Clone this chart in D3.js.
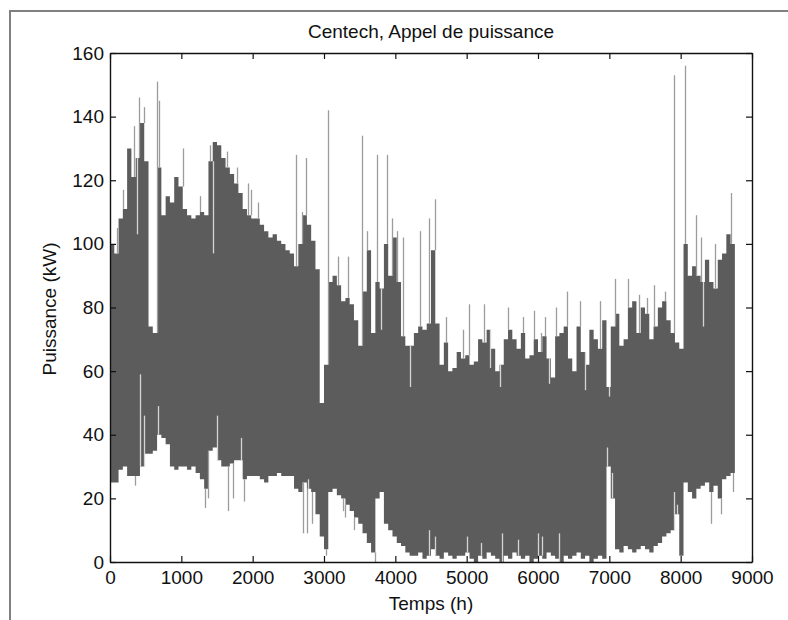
<!DOCTYPE html>
<html><head><meta charset="utf-8">
<script src="https://cdn.jsdelivr.net/npm/d3@7"></script>
<style>
body{margin:0;background:#fff}
svg text{font-family:"Liberation Sans",Arial,Helvetica,sans-serif;fill:#111}
</style>
</head><body>
<svg id="c" width="788" height="620"></svg>
<script>
// ---- data ----
const title = "Centech, Appel de puissance";
const xLabel = "Temps (h)";
const yLabel = "Puissance (kW)";
const xTicks = [0,1000,2000,3000,4000,5000,6000,7000,8000,9000];
const yTicks = [0,20,40,60,80,100,120,140,160];
const hourStep = 60; // each value below covers 60 hours (8760 h in total)

// upper envelope (maximum power over each 60 h block), kW
const maxLoad = [100,97,108,111,130,121,127,138,126,74,
 72,124,109,115,113,121,118,111,109,108,
 109,110,109,126,132,131,127,124,122,119,
 116,111,109,108,108,106,104,102,103,101,
 100,98,97,93,100,109,106,101,92,50,
 62,88,90,87,82,83,81,76,68,85,
 98,72,88,86,100,90,102,88,71,68,
 68,72,74,73,75,98,75,62,69,60,
 61,66,64,65,62,63,70,69,73,67,
 60,62,70,73,70,67,72,64,65,70,
 66,71,64,58,71,72,74,64,60,74,
 66,62,73,70,67,76,55,74,78,68,
 70,80,82,72,80,78,70,74,80,82,
 76,72,69,67,100,90,93,90,88,95,
 88,86,95,97,103,100];

// lower envelope (minimum power over each 60 h block), kW
const minLoad = [25,25,29,30,27,27,27,30,34,34,
 35,40,39,37,30,29,30,30,29,30,
 28,26,23,35,36,32,30,30,31,32,
 32,26,27,27,27,26,25,27,27,28,
 27,27,27,23,22,25,23,22,15,8,
 4,22,23,21,20,18,16,14,12,9,
 6,3,20,22,12,10,8,6,5,3,
 2,2,3,1,2,4,2,1,3,2,
 1,2,2,3,1,0,2,1,3,2,
 1,0,2,1,3,2,1,2,0,1,
 2,1,3,2,1,0,2,1,2,3,
 1,2,0,1,2,1,30,20,4,3,
 5,4,3,4,5,4,3,5,6,8,
 9,10,15,2,25,22,20,23,24,25,
 22,24,20,26,27,28];

// isolated peaks above the upper envelope
const peakHours = [100,180,330,400,470,655,680,1019,1262,1402,1636,1776,1930,1972,2080,2610,2690,2750,3056,3196,3337,3533,3607,3748,3888,3953,4028,4108,4341,4470,4551,4715,4950,5033,5240,5580,5790,5945,6040,6095,6250,6410,6585,6865,7075,7262,7410,7530,7625,7775,7902,8056,8220,8290,8476,8700];
const peakValues = [105,117,137,146,143,151,145,130,115,131,129,124,119,117,113,128,110,127,142,96,96,134,104,128,128,108,104,102,104,108,114,77,73,81,81,80,77,79,72,77,80,85,82,82,89,89,84,83,87,85,153,156,109,102,100,116];

// short drops below the upper envelope
const dropHours = [383,1439,3800,4200,5330,5465,6160,6655,6996,8320];
const dropValues = [103,97,73,55,61,55,56,54,52,74];

// isolated lows below the lower envelope
const lowHours = [350,1327,1380,1654,1720,1880,2700,2760,2830,3030,3270,3300,3420,3710,8420,8560,8740];
const lowValues = [24,17,20,16,20,19,9,9,12,2,16,14,10,0,12,15,22];

// short rises above the lower envelope
const riseHours = [425,470,673,1500,1830,2780,4470,4560,5000,5200,5500,5720,6000,6050,6300,6967,7040,7900,7945];
const riseValues = [59,46,49,46,39,26,10,8,8,6,9,7,9,8,9,36,28,22,18];

// ---- drawing ----
const svg = d3.select("#c");
const P = {left:110, right:752, top:53, bottom:562};
const x = d3.scaleLinear().domain([0,9000]).range([P.left,P.right]);
const y = d3.scaleLinear().domain([0,160]).range([P.bottom,P.top]);

// outer figure border (partial, as in the picture)
svg.append("path").attr("d","M10,620V11H788").attr("fill","none")
  .attr("stroke","#808080").attr("stroke-width",2);

svg.append("defs").append("clipPath").attr("id","clip")
  .append("rect").attr("x",P.left).attr("y",P.top)
  .attr("width",P.right-P.left).attr("height",P.bottom-P.top);

const g = svg.append("g").attr("clip-path","url(#clip)");
const bins = maxLoad.map((v,i)=>({h:i*hourStep,hi:v,lo:minLoad[i]}));
const binOf = h => bins[Math.min(bins.length-1, Math.floor(h/hourStep))];
const pts = bins.concat([{h:bins.length*hourStep, hi:maxLoad[maxLoad.length-1], lo:minLoad[minLoad.length-1]}]);

g.append("path").datum(pts)
  .attr("d", d3.area().curve(d3.curveStepAfter).x(d=>x(d.h)).y0(d=>y(d.lo)).y1(d=>y(d.hi)))
  .attr("fill","#5c5c5c");

function lines(hours, vals, fromKey, color){
  g.append("g").selectAll("line").data(hours.map((h,i)=>({h,v:vals[i]}))).join("line")
    .attr("x1",d=>Math.round(x(d.h))+0.5).attr("x2",d=>Math.round(x(d.h))+0.5)
    .attr("y1",d=>y(binOf(d.h)[fromKey])).attr("y2",d=>y(d.v))
    .attr("stroke",color).attr("stroke-width",1.3);
}
lines(peakHours, peakValues, "hi", "#9c9c9c");
lines(lowHours, lowValues, "lo", "#9c9c9c");
lines(dropHours, dropValues, "hi", "#d4d4d4");
lines(riseHours, riseValues, "lo", "#d4d4d4");

// axes (box with inward ticks on all sides)
const fs = "19px";
const ax = [
  svg.append("g").attr("transform",`translate(0,${P.bottom})`)
    .call(d3.axisBottom(x).tickValues(xTicks).tickFormat(d3.format("d")).tickSizeInner(-6).tickSizeOuter(0).tickPadding(9)),
  svg.append("g").attr("transform",`translate(${P.left},0)`)
    .call(d3.axisLeft(y).tickValues(yTicks).tickFormat(d3.format("d")).tickSizeInner(-6).tickSizeOuter(0).tickPadding(6)),
  svg.append("g").attr("transform",`translate(0,${P.top})`)
    .call(d3.axisTop(x).tickValues(xTicks).tickFormat("").tickSizeInner(-6).tickSizeOuter(0)),
  svg.append("g").attr("transform",`translate(${P.right},0)`)
    .call(d3.axisRight(y).tickValues(yTicks).tickFormat("").tickSizeInner(-6).tickSizeOuter(0))
];
ax.forEach(a=>{
  a.selectAll("path.domain").attr("stroke","#111").attr("stroke-width",1.4);
  a.selectAll(".tick line").attr("stroke","#111").attr("stroke-width",1.2);
  a.selectAll("text").style("font-size",fs).attr("fill","#111");
  a.attr("font-family",null);
});

svg.append("text").attr("x",431).attr("y",38).attr("text-anchor","middle")
  .style("font-size","19px").text(title);
svg.append("text").attr("x",431).attr("y",610).attr("text-anchor","middle")
  .style("font-size","19px").text(xLabel);
svg.append("text").attr("transform","translate(56,309) rotate(-90)").attr("text-anchor","middle")
  .style("font-size","19px").text(yLabel);
</script>
</body></html>
